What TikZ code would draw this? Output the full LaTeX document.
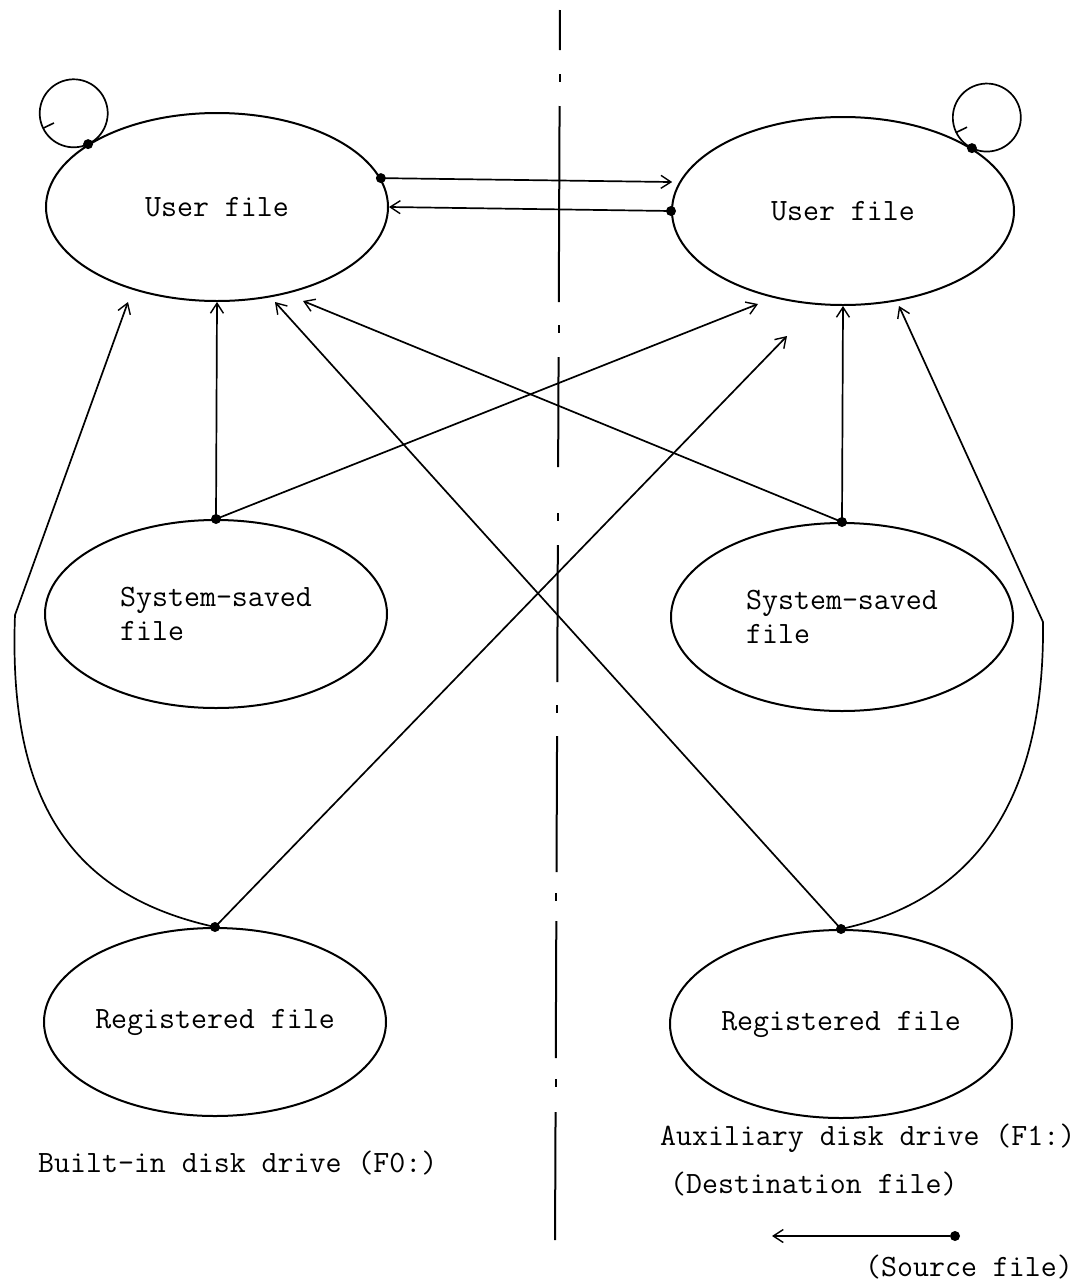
\documentclass[tikz,border=0pt]{standalone}
\usetikzlibrary{shapes.geometric,arrows.meta}

\begin{document}
\begin{tikzpicture}[x=1pt,y=-1pt,
  filebox/.style={ellipse,draw,line width=2pt,minimum width=342pt,minimum height=188pt,inner sep=0pt,align=left,font=\ttfamily\fontsize{31}{34}\selectfont},
  drivetext/.style={anchor=west,inner sep=0pt,font=\ttfamily\fontsize{31}{34}\selectfont},
  arr/.style={-{Straight Barb[length=10pt,width=13pt,line width=1.4pt]},line width=1.7pt},
  dot/.style={circle,fill,inner sep=0pt,minimum size=10pt}]
\useasboundingbox (0,0) rectangle (1080,1288);
\node[filebox](uf0) at (217,207){User file};
\node[filebox](uf1) at (843,211){User file};
\node[filebox](ss0) at (216,614){System-saved\\file};
\node[filebox](ss1) at (842,617){System-saved\\file};
\node[filebox](rg0) at (215,1022){Registered file};
\node[filebox](rg1) at (841,1024){Registered file};
\coordinate(t0a) at (128,302);
\coordinate(t0c) at (275,302);
\coordinate(t0d) at (303,301);
\coordinate(t1a) at (758,304);
\coordinate(t1b) at (787,336);
\coordinate(t1d) at (899,306);
\coordinate(cn0) at (15,615);
\coordinate(cn1) at (1043,622);
\coordinate(lp0) at ([shift={(-14.4,-30.8)}]uf0.154);
\coordinate(lp1) at ([shift={(14.9,-30.6)}]uf1.26);
% self loops
\path[draw,line width=1.7pt](uf0.154) arc[start angle=65,delta angle=360,radius=34];
\path[draw,line width=1.6pt]([shift={(154:34)}]lp0)--([shift={(154:22)}]lp0);
\path[draw,line width=1.7pt](uf1.26) arc[start angle=116,delta angle=-360,radius=34];
\path[draw,line width=1.6pt]([shift={(154:34)}]lp1)--([shift={(154:22)}]lp1);
% copies
\path[draw,arr,shorten >=7pt](uf0.10)--(uf1.170);
\path[draw,arr](uf1.west)--(uf0.east);
\path[draw,arr](ss0.north)--(uf0.south);
\path[draw,arr](ss0.north)--(t1a);
\path[draw,arr](ss1.north)--(uf1.south);
\path[draw,arr](ss1.north)--(t0d);
\path[draw,arr](rg0.north)--(t1b);
\path[draw,arr](rg1.north)--(t0c);
\path[draw,arr](rg0.north)..controls(70,895)and(8,800)..(cn0)--(t0a);
\path[draw,arr](rg1.north)..controls(975,900)and(1045,800)..(cn1)--(t1d);
\node[dot](d0) at (uf0.154){};
\node[dot](d1) at (uf0.10){};
\node[dot](d2) at (uf1.west){};
\node[dot](d3) at (uf1.26){};
\node[dot](d4) at (ss0.north){};
\node[dot](d5) at (ss1.north){};
\node[dot](d6) at (rg0.north){};
\node[dot](d7) at (rg1.north){};
% centre line
\foreach \a/\b in {10/50,106/302,357/467,545/682,736/872,921/1058,1112/1240}
  \path[draw,line width=2pt]({560-\a*0.004},\a)--({560-\b*0.004},\b);
\foreach \c in {78,329,517,709,897,1083}
  \path[draw,line width=2pt]({560-\c*0.004},\c-4)--({560-\c*0.004},\c+4);
% drives and legend
\node[drivetext](f0) at (38,1163){Built-in disk drive (F0:)};
\node[drivetext](f1) at (660,1138){Auxiliary disk drive (F1:)};
\node[drivetext](dst) at (670,1184){(Destination file)};
\node[drivetext](src) at (865,1267){(Source file)};
\node[dot](ls) at (955,1236){};
\coordinate(le) at (772,1236);
\path[draw,arr,line width=1.3pt](ls)--(le);
\end{tikzpicture}
\end{document}
